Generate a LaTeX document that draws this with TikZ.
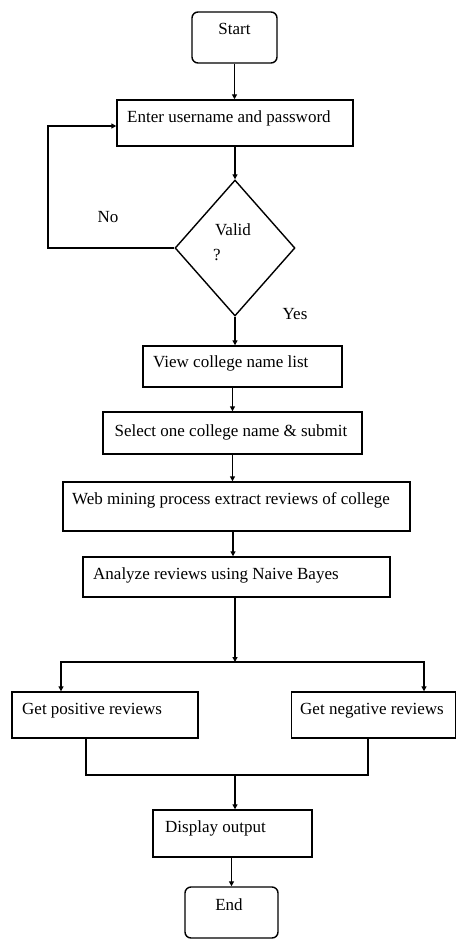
\documentclass[tikz,border=0pt]{standalone}
\usepackage{fontspec}
\setmainfont{Liberation Serif}
\usetikzlibrary{arrows.meta,shapes.geometric}
\begin{document}
\begin{tikzpicture}[x=1pt,y=-1pt,
  box/.style={draw, line width=1.4pt, rectangle, inner sep=0pt},
  term/.style={box, rounded corners=6pt},
  decision/.style={draw, line width=1.4pt, diamond, inner sep=0pt, minimum width=120pt, minimum height=136pt},
  lbl/.style={inner sep=0pt, font=\fontsize{17}{20}\selectfont},
  ln/.style={line width=1.4pt},
  arr/.style={line width=1.4pt, -{Triangle[length=5pt,width=5pt]}}]
\useasboundingbox (0,0) rectangle (457,939);

% boxes
\node[term, minimum width=85pt, minimum height=51pt] (start) at (234.5,37.5) {};
\node[box, minimum width=236pt, minimum height=46pt] (enter) at (235,123) {};
\node[decision] (valid) at (235,248) {};
\node[box, minimum width=199pt, minimum height=41pt] (view) at (242.5,366.5) {};
\node[box, minimum width=259pt, minimum height=42pt] (select) at (232.5,433) {};
\node[box, minimum width=347pt, minimum height=49pt] (web) at (236.5,506.5) {};
\node[box, minimum width=307pt, minimum height=40pt] (analyze) at (236.5,577) {};
\node[box, minimum width=186pt, minimum height=46pt] (pos) at (105,715) {};
\node[box, minimum width=164pt, minimum height=46pt] (neg) at (373.5,715) {};
\node[box, minimum width=159pt, minimum height=47pt] (display) at (232.5,833.5) {};
\node[term, minimum width=93pt, minimum height=51pt] (end) at (231.5,912.5) {};

% texts
\node[lbl] (tstart) at (234.5,29) {Start};
\node[lbl, anchor=west] (tenter) at (127,118) {Enter username and password};
\node[lbl] (tvalid) at (233,230) {Valid};
\node[lbl] (tq) at (217,255) {?};
\node[lbl] (tno) at (108,217) {No};
\node[lbl] (tyes) at (295,314) {Yes};
\node[lbl, anchor=west] (tview) at (153,363) {View college name list};
\node[lbl] (tselect) at (231,432) {Select one college name \& submit};
\node[lbl, anchor=west] (tweb) at (72,500) {Web mining process extract reviews of college};
\node[lbl, anchor=west] (tanalyze) at (93,575) {Analyze reviews using Naive Bayes};
\node[lbl, anchor=west] (tpos) at (22,711) {Get positive reviews};
\node[lbl, anchor=west] (tneg) at (300,711) {Get negative reviews};
\node[lbl, anchor=west] (tdisplay) at (165,828) {Display output};
\node[lbl] (tend) at (229,905) {End};

% helper coordinates
\coordinate (loop) at (48,248);
\coordinate (split) at (235,662);
\coordinate (merge) at (235,775);

% connectors
\draw[arr] (start.south) -- (start.south |- enter.north);
\draw[arr] (enter.south) -- (valid.north);
\draw[arr] (valid.south) -- (valid.south |- view.north);
\draw[arr] (view.south -| select.north) -- (select.north);
\draw[arr] (select.south) -- (select.south |- web.north);
\draw[arr] ([xshift=-3.5pt]web.south) -- ([xshift=-3.5pt]analyze.north);
\draw[arr] (analyze.south -| split) -- (split);
\draw[arr] (split) -| ([xshift=-44pt]pos.north);
\draw[arr] (split) -| ([xshift=50.5pt]neg.north);
\draw[ln] ([xshift=-19pt]pos.south) |- (merge);
\draw[ln] ([xshift=-5.5pt]neg.south) |- (merge);
\draw[arr] (merge) -- (merge |- display.north);
\draw[arr] (display.south -| end.north) -- (end.north);
\draw[arr] (valid.west) -- (loop) |- ([yshift=-3pt]enter.west);
\end{tikzpicture}
\end{document}
